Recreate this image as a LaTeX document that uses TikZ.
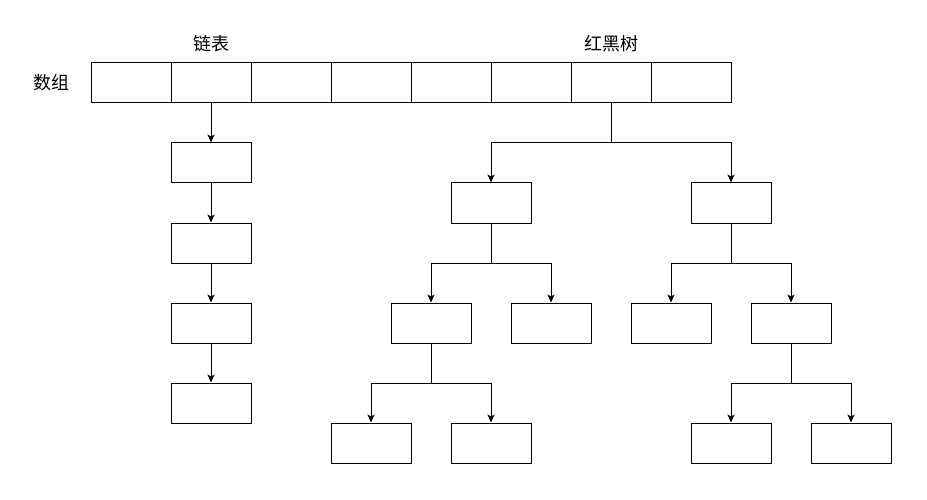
\documentclass[tikz,border=0pt]{standalone}
\usepackage{fontspec}
\newfontfamily\cjk{Noto Sans CJK SC}
\usetikzlibrary{arrows.meta}

\begin{document}
\begin{tikzpicture}[x=1pt, y=-1pt, line width=1pt,
    cell/.style={draw, minimum width=80pt, minimum height=40pt, inner sep=0pt},
    lbl/.style={font=\cjk\fontsize{18pt}{21pt}\selectfont, inner sep=0pt},
    arr/.style={-{Stealth[length=8pt, width=7pt, inset=2pt]}}]
    \useasboundingbox (0,0) rectangle (927,500);
    % array
    \foreach \i in {1,...,8}
        \node[cell] (c\i) at (131+80*\i-80, 83) {};
    \node[lbl] (arrlbl) at (51, 83) {数组};
    \node[lbl] (listlbl) at (211, 44) {链表};
    \node[lbl] (treelbl) at (611, 44) {红黑树};
    % linked list
    \node[cell] (l1) at (211, 163) {};
    \node[cell] (l2) at (211, 243) {};
    \node[cell] (l3) at (211, 323) {};
    \node[cell] (l4) at (211, 403) {};
    \draw[arr] (c2.south) -- (l1.north);
    \draw[arr] (l1.south) -- (l2.north);
    \draw[arr] (l2.south) -- (l3.north);
    \draw[arr] (l3.south) -- (l4.north);
    % tree
    \node[cell] (ta) at (491, 203) {};
    \node[cell] (tb) at (731, 203) {};
    \node[cell] (tc) at (431, 323) {};
    \node[cell] (td) at (551, 323) {};
    \node[cell] (te) at (671, 323) {};
    \node[cell] (tf) at (791, 323) {};
    \node[cell] (tg) at (371, 443) {};
    \node[cell] (th) at (491, 443) {};
    \node[cell] (ti) at (731, 443) {};
    \node[cell] (tj) at (851, 443) {};
    \coordinate (j1) at (611, 143);
    \coordinate (j2) at (491, 263);
    \coordinate (j3) at (731, 263);
    \coordinate (j4) at (431, 383);
    \coordinate (j5) at (791, 383);
    \draw (c7.south) -- (j1);
    \draw[arr] (j1) -| (ta.north);
    \draw[arr] (j1) -| (tb.north);
    \draw (ta.south) -- (j2);
    \draw[arr] (j2) -| (tc.north);
    \draw[arr] (j2) -| (td.north);
    \draw (tb.south) -- (j3);
    \draw[arr] (j3) -| (te.north);
    \draw[arr] (j3) -| (tf.north);
    \draw (tc.south) -- (j4);
    \draw[arr] (j4) -| (tg.north);
    \draw[arr] (j4) -| (th.north);
    \draw (tf.south) -- (j5);
    \draw[arr] (j5) -| (ti.north);
    \draw[arr] (j5) -| (tj.north);
\end{tikzpicture}
\end{document}
